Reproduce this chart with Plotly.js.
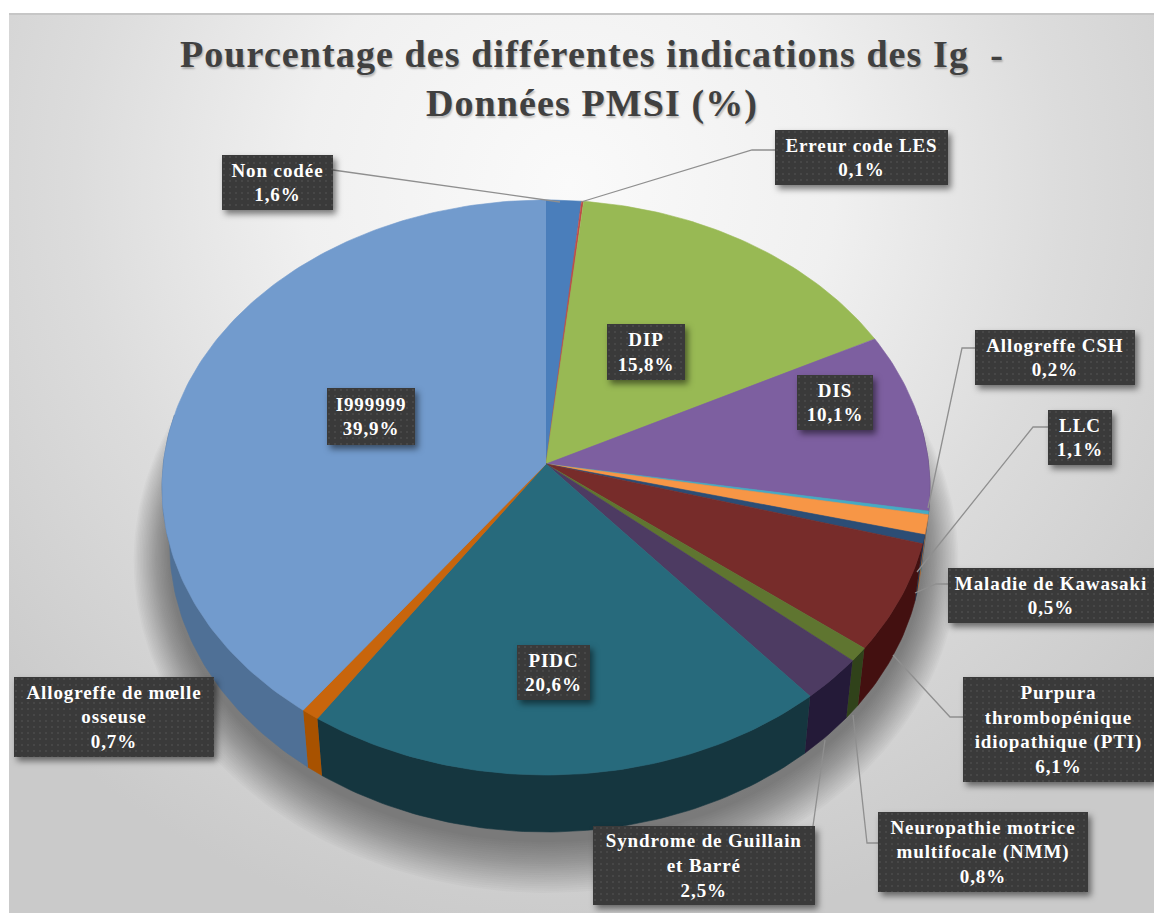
<!DOCTYPE html>
<html><head><meta charset="utf-8">
<script src="https://cdn.plot.ly/plotly-3.0.1.min.js"></script>
<style>
html,body{margin:0;padding:0;background:#fff;overflow:hidden}
#panel{position:absolute;left:9px;top:13px;width:1145px;height:900px;border-top:2px solid #c6c6c6;box-sizing:border-box;
background:radial-gradient(ellipse 760px 760px at 560px 170px,#fafafa 0%,#f0f0f0 35%,#dcdcdc 65%,#cacaca 100%)}
#chart{position:absolute;left:0;top:0;width:1154px;height:913px}
.annotation rect.bg{fill:url(#dots) !important;filter:drop-shadow(3px 4px 3px rgba(0,0,0,.5))}
.annotation text{letter-spacing:.9px}
.gtitle{text-shadow:1px 2px 2px rgba(0,0,0,.25);letter-spacing:1.1px}
</style></head><body>
<svg width="0" height="0" style="position:absolute"><defs>
<pattern id="dots" width="6" height="6" patternUnits="userSpaceOnUse"><rect width="6" height="6" fill="#3a3a3a"/><circle cx="2" cy="2" r="1" fill="#4b4b4b"/></pattern>
</defs></svg>
<div id="panel"></div><div id="chart"></div>
<script>
// Data (clockwise from the top)
const categories = ["Non codée","Erreur code LES","DIP","DIS","Allogreffe CSH","LLC","Maladie de Kawasaki",
  "Purpura<br>thrombopénique<br>idiopathique (PTI)","Neuropathie motrice<br>multifocale (NMM)","Syndrome de Guillain<br>et Barré",
  "PIDC","Allogreffe de mœlle<br>osseuse","I999999"];
const values = [1.6,0.1,15.8,10.1,0.2,1.1,0.5,6.1,0.8,2.5,20.6,0.7,39.9];
const topColors = ["#4a7ebb","#be4b48","#98b954","#7d5fa0","#46aac5","#f79646","#2c4d75","#772c2a","#5f7530","#4d3b62","#276a7c","#c8650c","#729bcd"];
const wallColors = ["#34588a","#802f2d","#66803a","#54406c","#2f7285","#a8642e","#1d344f","#431010","#30421a","#241a38","#15363f","#a85200","#4f7096"];

// Label boxes [left, top, right, bottom] in chart units
const labelBoxes = [[222,155,333,210],[775,130,948,185],[607,324,685,380],[797,375,873,430],[975,330,1135,385],[1048,410,1112,465],
  [948,568,1154,623],[963,677,1154,782],[878,812,1088,892],[593,826,815,905],[517,645,590,700],[14,677,214,757],[327,388,415,445]];
// Leader lines (elbow paths)
const leaders = [
  [[333,170],[560,202]],
  [[775,150],[752,150],[581,202]],
  [[975,348],[962,348],[928,508]],
  [[1048,427],[1033,427],[917,572]],
  [[948,584],[936,584],[915,593]],
  [[963,717],[950,717],[893,655]],
  [[878,843],[867,843],[853,715]],
  [[813,826],[825,740]]
];

// Pie projection settings
const CX=546, CY=464, A=382.7, B=285.6, K=0.0817, DEPTH=57, BASE_SCALE=0.98;
function rim(deg){const t=deg*Math.PI/180,X=Math.sin(t),Y=Math.cos(t),d=1+K*Y;return [CX+A*X/d,CY-B*Y/d];}
function base(deg){const p=rim(deg);return [CX+(p[0]-CX)*BASE_SCALE,p[1]+DEPTH];}
function arc(a,b,f){const n=Math.max(2,Math.ceil(Math.abs(b-a)/1)),o=[];for(let i=0;i<=n;i++)o.push(f(a+(b-a)*i/n));return o;}
const total=values.reduce((s,v)=>s+v,0);
const traces=[];
function poly(pts,color,name,line){traces.push({type:"scatter",mode:"lines",x:pts.map(p=>p[0]),y:pts.map(p=>p[1]),fill:"toself",fillcolor:color,
  line:{color:line||color,width:line?0.6:0},hoverinfo:name?"text":"skip",text:name||"",showlegend:false});}

// soft shadow under the pie
for(let i=24;i>=1;i--){
  const pts=arc(0,360,d=>{const p=base(d);return [CX+(p[0]-CX)*(1+i*0.004),(p[1]-CY-DEPTH/2)*(1+i*0.0065)+CY+DEPTH/2+8];});
  poly(pts,"rgba(0,0,0,0.02)");
}
let acc=0; const spans=values.map(v=>{const a=acc/total*360;acc+=v;return [a,acc/total*360];});
// side wall
spans.forEach((s,i)=>{
  const a=Math.max(s[0],80),b=Math.min(s[1],280);
  if(b<=a) return;
  poly(arc(a,b,rim).concat(arc(b,a,base)),wallColors[i],null,wallColors[i]);
});
// top face
const apex=[CX,CY];
spans.forEach((s,i)=>{
  poly([apex].concat(arc(s[0],s[1],rim)),topColors[i],categories[i].replace(/<br>/g," ")+" "+values[i]+"%",topColors[i]);
});
// leaders
leaders.forEach(l=>traces.push({type:"scatter",mode:"lines",x:l.map(p=>p[0]),y:l.map(p=>p[1]),line:{color:"#8f8f8f",width:1.3},hoverinfo:"skip",showlegend:false}));

const pct=v=>v.toFixed(1).replace(".",",")+"%";
const annotations=categories.map((c,i)=>{const b=labelBoxes[i];return {
  xref:"x",yref:"y",x:(b[0]+b[2])/2,y:(b[1]+b[3])/2,xanchor:"center",yanchor:"middle",showarrow:false,
  width:b[2]-b[0],height:b[3]-b[1],borderpad:0,borderwidth:0,bgcolor:"#3a3a3a",align:"center",valign:"middle",
  text:"<b>"+c+"<br>"+pct(values[i])+"</b>",font:{family:"Liberation Serif",size:19,color:"#ffffff"}};});

const layout={width:1154,height:913,margin:{l:0,r:0,t:0,b:0},paper_bgcolor:"rgba(0,0,0,0)",plot_bgcolor:"rgba(0,0,0,0)",showlegend:false,
  title:{text:"<b>Pourcentage des différentes indications des Ig  -<br>Données PMSI (%)</b>",x:0.513,xanchor:"center",y:0.927,yanchor:"middle",
    font:{family:"Liberation Serif",size:38,color:"#404040"}},
  xaxis:{range:[0,1154],visible:false,fixedrange:true},yaxis:{range:[913,0],visible:false,fixedrange:true},annotations};
Plotly.newPlot("chart",traces,layout,{displayModeBar:false});
</script></body></html>
